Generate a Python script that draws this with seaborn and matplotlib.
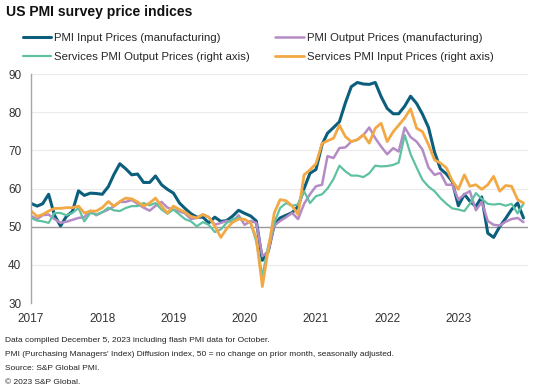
import pandas as pd
import matplotlib.pyplot as plt
import seaborn as sns

# -----------------------------
# DATA (monthly, Jan 2017 - Dec 2023)
# -----------------------------
dates = pd.date_range("2017-01-01", periods=84, freq="MS")

input_mfg = [
    56.1, 55.4, 56.0, 58.5, 53.0, 50.2, 52.7, 54.0, 59.4, 58.2, 58.8, 58.7,
    58.5, 60.5, 63.6, 66.5, 65.2, 63.6, 63.8, 61.6, 61.6, 63.3, 61.0, 59.8,
    58.8, 56.2, 54.8, 53.4, 52.5, 52.5, 51.0, 52.5, 51.4, 51.6, 52.8, 54.3,
    53.5, 52.8, 51.5, 41.2, 43.5, 50.5, 52.3, 53.0, 53.7, 55.3, 60.0, 64.0,
    65.0, 71.5, 74.5, 76.0, 77.5, 82.5, 86.7, 87.8, 87.4, 87.3, 87.8, 84.1,
    81.0, 79.6, 79.6, 81.6, 84.2, 82.3, 79.5, 76.0, 69.5, 65.2, 63.8, 61.8,
    55.5, 58.5, 56.7, 55.3, 57.8, 48.3, 47.2, 50.0, 52.2, 54.5, 56.2, 52.3,
]

output_mfg = [
    52.8, 52.0, 53.0, 53.2, 52.0, 51.0, 51.3, 51.8, 52.3, 52.5, 54.2, 53.0,
    53.8, 54.5, 55.3, 56.5, 56.5, 57.0, 56.0, 55.0, 54.2, 55.5, 56.5, 55.0,
    54.5, 54.0, 53.5, 52.0, 52.3, 53.2, 52.5, 50.5, 51.0, 51.5, 51.3, 53.0,
    50.5, 51.5, 51.0, 42.3, 43.5, 50.3, 51.5, 52.5, 53.6, 52.0, 56.0, 58.5,
    60.6, 61.0, 68.5, 68.0, 70.6, 70.8, 72.3, 72.8, 74.0, 76.0, 73.2, 71.0,
    69.0, 70.6, 69.7, 76.0, 73.5, 72.3, 70.2, 65.5, 63.6, 64.1, 61.0, 61.0,
    57.1, 58.5, 59.3, 54.3, 56.5, 51.5, 50.5, 50.3, 51.3, 52.0, 52.3, 51.2,
]

services_output = [
    52.3, 51.6, 51.4, 51.0, 53.6, 53.6, 53.0, 53.6, 54.9, 51.4, 53.6, 53.2,
    53.8, 55.0, 54.3, 54.1, 54.9, 55.4, 55.4, 56.2, 55.6, 56.2, 54.5, 53.4,
    54.5, 53.2, 52.0, 51.4, 50.1, 51.2, 50.5, 48.6, 49.3, 51.0, 52.0, 52.3,
    51.9, 51.0, 46.0, 37.0, 45.0, 51.0, 54.9, 56.2, 55.5, 55.8, 59.3, 56.2,
    58.0, 58.5, 60.0, 62.5, 66.0, 64.5, 63.4, 63.4, 63.0, 64.0, 66.0, 65.8,
    65.9, 66.2, 66.8, 74.0, 69.0, 65.5, 62.3, 60.5, 59.3, 57.5, 56.0, 54.8,
    54.5, 54.1, 56.0, 58.8, 57.3, 56.0, 55.8, 56.0, 55.5, 56.0, 53.5, 56.0,
]

services_input = [
    54.1, 52.7, 53.2, 54.1, 54.8, 54.8, 55.0, 55.0, 55.4, 53.6, 54.1, 54.1,
    55.0, 56.6, 55.4, 56.6, 57.5, 57.3, 56.5, 55.4, 56.2, 57.5, 55.4, 53.6,
    55.4, 54.5, 53.8, 52.7, 52.3, 53.2, 52.5, 50.2, 47.2, 49.5, 51.2, 52.0,
    51.9, 51.0, 47.0, 34.3, 44.0, 53.6, 57.1, 56.8, 55.4, 53.2, 63.6, 64.9,
    66.5, 71.8, 72.5, 73.2, 76.6, 73.6, 72.3, 72.8, 74.1, 71.9, 75.8, 77.1,
    72.3, 74.9, 76.6, 78.5, 80.9, 75.8, 74.9, 71.5, 67.5, 66.7, 65.4, 62.0,
    59.8, 63.6, 60.6, 61.0, 59.8, 61.0, 63.2, 59.3, 60.8, 60.6, 57.1, 56.2,
]

labels = [
    "PMI Input Prices (manufacturing)",
    "PMI Output Prices (manufacturing)",
    "Services PMI Output Prices (right axis)",
    "Services PMI Input Prices (right axis)",
]
colors = ["#0b5f7c", "#b58bc6", "#5fc1a2", "#f2a945"]
widths = [2.2, 1.8, 1.6, 2.0]
years = [2017, 2018, 2019, 2020, 2021, 2022, 2023]

df = pd.DataFrame({
    "date": dates,
    labels[0]: input_mfg,
    labels[1]: output_mfg,
    labels[2]: services_output,
    labels[3]: services_input,
})

# -----------------------------
# PLOT
# -----------------------------
sns.set_theme(style="white")
plt.rcParams["font.family"] = ["Liberation Sans", "DejaVu Sans"]

fig = plt.figure(figsize=(5.36, 3.92), dpi=100)
ax = fig.add_axes([0.058, 0.227, 0.927, 0.584])

for name, color, lw in zip(labels, colors, widths):
    sns.lineplot(data=df, x="date", y=name, ax=ax, color=color,
                 linewidth=lw, label=name)

ax.axhline(50, color="#9a9a9a", linewidth=1.0, zorder=1)

ax.set_ylim(30, 90)
ax.set_yticks(range(30, 91, 10))
ax.set_xlim(dates[0], pd.Timestamp("2023-12-24"))
ax.set_xticks(pd.to_datetime([f"{y}-01-01" for y in years]))
ax.set_xticklabels([str(y) for y in years])
ax.set_xlabel("")
ax.set_ylabel("")

ax.yaxis.grid(True, color="#ebebeb", linewidth=0.8)
ax.set_axisbelow(True)
for side in ["top", "right", "bottom"]:
    ax.spines[side].set_visible(False)
ax.spines["left"].set_color("#a6a6a6")
ax.spines["left"].set_linewidth(1.0)
ax.tick_params(axis="both", length=0, labelsize=8.5, colors="#333333")
ax.tick_params(axis="y", pad=7)
ax.tick_params(axis="x", pad=7)

# legend filled row by row like the original (matplotlib fills by column)
handles, leg_labels = ax.get_legend_handles_labels()
ax.get_legend().remove()
order = [0, 2, 1, 3]
fig.legend([handles[i] for i in order], [leg_labels[i] for i in order],
           loc="upper left", bbox_to_anchor=(0.042, 0.917),
           ncol=2, frameon=False, fontsize=8.2, handlelength=2.5,
           handletextpad=0.3, columnspacing=2.2, labelspacing=0.86,
           borderpad=0, borderaxespad=0)

fig.text(0.011, 1 - 12 / 392, "US PMI survey price indices", fontsize=10.1,
         fontweight="bold", va="center", ha="left", color="#111111")

notes = [
    "Data compiled December 5, 2023 including flash PMI data for October.",
    "PMI (Purchasing Managers' Index) Diffusion index, 50 = no change on prior month, seasonally adjusted.",
    "Source: S&P Global PMI.",
    "\u00a9 2023 S&P Global.",
]
for i, line in enumerate(notes):
    fig.text(0.009, 1 - (340 + 14 * i) / 392, line, fontsize=6.0,
             va="center", ha="left", color="#222222")

fig.savefig("out.png", dpi=100)
